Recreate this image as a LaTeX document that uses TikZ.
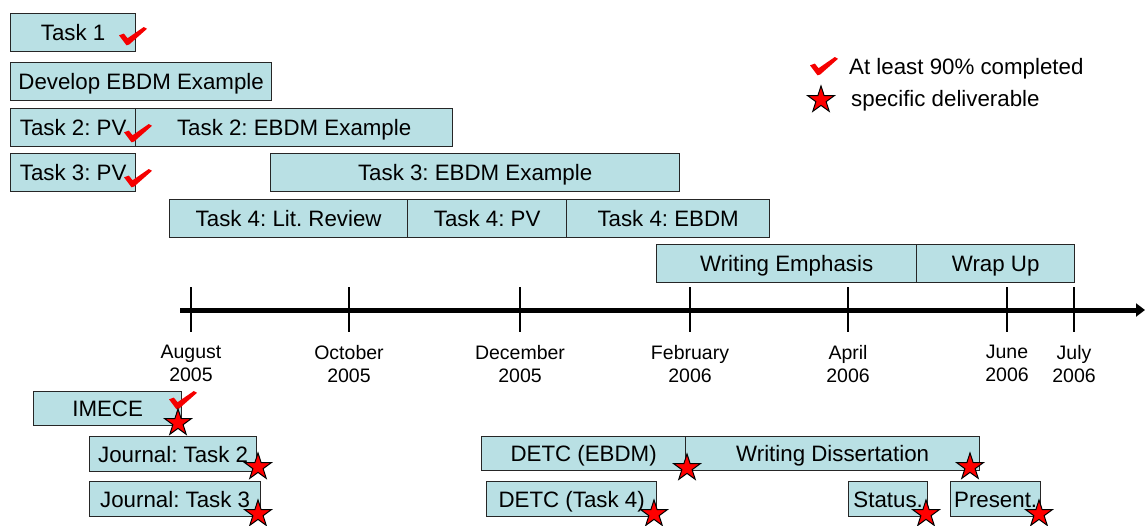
\documentclass[tikz,border=0pt]{standalone}
\usepackage{fontspec}
\setmainfont{Liberation Sans}
\usetikzlibrary{shapes.geometric,arrows.meta}
\definecolor{boxfill}{RGB}{185,224,228}
\definecolor{chkred}{RGB}{245,0,0}
\newcommand\gbar[6]{\node[bar, minimum width={#4-#2}, minimum height={#5-#3}] (#1) at (#2,#3) {#6};}
\frenchspacing
\begin{document}
\begin{tikzpicture}[x=1pt,y=-1pt,
  bar/.style={draw=black!85, line width=1.3pt, fill=boxfill, inner sep=0pt,
    anchor=north west, font=\fontsize{22.3}{26}\selectfont, text height=15.9pt, text depth=0pt},
  datelbl/.style={anchor=north, align=center, inner sep=0pt, font=\fontsize{19.5}{23}\selectfont},
  legtext/.style={anchor=base west, inner sep=0pt, font=\fontsize{22.3}{26}\selectfont},
  tickline/.style={line width=1.4pt, black},
  axisline/.style={line width=5pt, black, -{Triangle[length=9pt,width=13pt]}},
  starmark/.style={star, star points=5, star point ratio=2.6, minimum size=28pt,
    inner sep=0pt, fill=red, draw=black, line width=1pt},
  chk/.pic={\fill[chkred] (0,8.3) -- (4.8,6.6) -- (8.6,11.2) -- (24.8,0) -- (28,1.8)
     -- (10.2,17.5) -- (7.5,18.3) -- (5.2,15.2) -- cycle;}
]
\useasboundingbox (0,0) rectangle (1145,525);

% top bars
\gbar{t1}{10}{13}{135}{51}{Task 1}
\gbar{dev}{10}{62}{271}{100}{Develop EBDM Example}
\gbar{t2pv}{10}{108}{135}{146}{Task 2: PV}
\gbar{t2eb}{135}{108}{452}{146}{Task 2: EBDM Example}
\gbar{t3pv}{10}{153}{135}{191}{Task 3: PV}
\gbar{t3eb}{270}{153}{679}{191}{Task 3: EBDM Example}
\gbar{t4lit}{169}{199}{407}{237}{Task 4: Lit. Review}
\gbar{t4pv}{407}{199}{566}{237}{Task 4: PV}
\gbar{t4eb}{566}{199}{769}{237}{Task 4: EBDM}
\gbar{wemph}{656}{244}{916}{282}{Writing Emphasis}
\gbar{wrap}{916}{244}{1074}{282}{Wrap Up}

% axis
\coordinate (axL) at (180,310);
\coordinate (axR) at (1145,310);
\draw[axisline] (axL) -- (axR);
\foreach \n/\x/\m/\yr in {aug/191/August/2005, oct/349/October/2005, dec/520/December/2005,
   feb/690/February/2006, apr/848/April/2006, jun/1007/June/2006, jul/1074/July/2006} {
  \coordinate (\n top) at (\x,287);
  \coordinate (\n bot) at (\x,332);
  \draw[tickline] (\n top) -- (\n bot);
  \node[datelbl] (\n lbl) at (\x,345) {\m\\\yr};
}

% bottom bars
\gbar{imece}{33}{391}{181}{425}{IMECE}
\gbar{jt2}{89}{436}{256}{471}{Journal: Task 2}
\gbar{jt3}{89}{481}{260}{516}{Journal: Task 3}
\gbar{detce}{481}{436}{685}{470}{DETC (EBDM)}
\gbar{wdiss}{685}{436}{979}{470}{Writing Dissertation}
\gbar{detc4}{486}{481}{656}{516}{DETC (Task 4)}
\gbar{status}{848}{481}{927}{516}{Status.}
\gbar{present}{950}{481}{1040}{516}{Present.}

% check marks
\pic at (119,27) {chk};
\pic at (124,124) {chk};
\pic at (124,169) {chk};
\pic at (169,391) {chk};

% stars
\node[starmark] (s1) at (178,423) {};
\node[starmark] (s2) at (258,467) {};
\node[starmark] (s3) at (258,514) {};
\node[starmark] (s4) at (687,468) {};
\node[starmark] (s5) at (970,467) {};
\node[starmark] (s6) at (654,514) {};
\node[starmark] (s7) at (926,514) {};
\node[starmark] (s8) at (1039,514) {};

% legend
\pic at (810,57) {chk};
\node[legtext] (leg1) at (849,74) {At least 90\% completed};
\node[starmark] (legstar) at (821,100) {};
\node[legtext] (leg2) at (851,106) {specific deliverable};
\end{tikzpicture}
\end{document}
